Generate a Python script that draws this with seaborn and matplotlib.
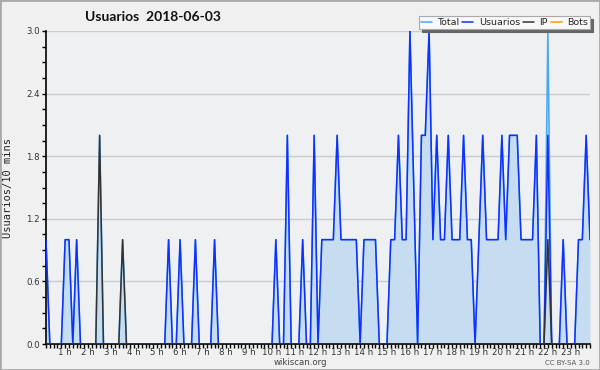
import pandas as pd
import matplotlib.pyplot as plt
import seaborn as sns
from matplotlib.patches import Rectangle
from matplotlib.ticker import MultipleLocator, FixedLocator

# 10-minute bins from 00:10 to 23:50
minutes = list(range(10, 1440, 10))

usuarios = [
    1, 0, 0, 0, 0, 1, 1, 0, 1, 0, 0, 0,
    0, 0, 0, 0, 0, 0, 0, 0, 0, 0, 0, 0,
    0, 0, 0, 0, 0, 0, 0, 0, 1, 0, 0, 1,
    0, 0, 0, 1, 0, 0, 0, 0, 1, 0, 0, 0,
    0, 0, 0, 0, 0, 0, 0, 0, 0, 0, 0, 0,
    1, 0, 0, 2, 0, 0, 0, 1, 0, 0, 2, 0,
    1, 1, 1, 1, 2, 1, 1, 1, 1, 1, 0, 1,
    1, 1, 1, 0, 0, 0, 1, 1, 2, 1, 1, 3,
    1.5, 0, 2, 2, 3, 1, 2, 1, 1, 2, 1, 1,
    1, 2, 1, 1, 0, 1, 2, 1, 1, 1, 1, 2,
    1, 2, 2, 2, 1, 1, 1, 1, 2, 0, 0, 2,
    0, 0, 0, 1, 0, 0, 0, 1, 1, 2, 1,
]

ip = [
    0, 0, 0, 0, 0, 0, 0, 0, 0, 0, 0, 0,
    0, 0, 2, 0, 0, 0, 0, 0, 1, 0, 0, 0,
    0, 0, 0, 0, 0, 0, 0, 0, 0, 0, 0, 0,
    0, 0, 0, 0, 0, 0, 0, 0, 0, 0, 0, 0,
    0, 0, 0, 0, 0, 0, 0, 0, 0, 0, 0, 0,
    0, 0, 0, 0, 0, 0, 0, 0, 0, 0, 0, 0,
    0, 0, 0, 0, 0, 0, 0, 0, 0, 0, 0, 0,
    0, 0, 0, 0, 0, 0, 0, 0, 0, 0, 0, 0,
    0, 0, 0, 0, 0, 0, 0, 0, 0, 0, 0, 0,
    0, 0, 0, 0, 0, 0, 0, 0, 0, 0, 0, 0,
    0, 0, 0, 0, 0, 0, 0, 0, 0, 0, 0, 1,
    0, 0, 0, 0, 0, 0, 0, 0, 0, 0, 0,
]

bots = [
    0, 0, 0, 0, 0, 0, 0, 0, 0, 0, 0, 0,
    0, 0, 0, 0, 0, 0, 0, 0, 0, 0, 0, 0,
    0, 0, 0, 0, 0, 0, 0, 0, 0, 0, 0, 0,
    0, 0, 0, 0, 0, 0, 0, 0, 0, 0, 0, 0,
    0, 0, 0, 0, 0, 0, 0, 0, 0, 0, 0, 0,
    0, 0, 0, 0, 0, 0, 0, 0, 0, 0, 0, 0,
    0, 0, 0, 0, 0, 0, 0, 0, 0, 0, 0, 0,
    0, 0, 0, 0, 0, 0, 0, 0, 0, 0, 0, 0,
    0, 0, 0, 0, 0, 0, 0, 0, 0, 0, 0, 0,
    0, 0, 0, 0, 0, 0, 0, 0, 0, 0, 0, 0,
    0, 0, 0, 0, 0, 0, 0, 0, 0, 0, 0, 0,
    0, 0, 0, 0, 0, 0, 0, 0, 0, 0, 0,
]

total = [
    1, 0, 0, 0, 0, 1, 1, 0, 1, 0, 0, 0,
    0, 0, 2, 0, 0, 0, 0, 0, 1, 0, 0, 0,
    0, 0, 0, 0, 0, 0, 0, 0, 1, 0, 0, 1,
    0, 0, 0, 1, 0, 0, 0, 0, 1, 0, 0, 0,
    0, 0, 0, 0, 0, 0, 0, 0, 0, 0, 0, 0,
    1, 0, 0, 2, 0, 0, 0, 1, 0, 0, 2, 0,
    1, 1, 1, 1, 2, 1, 1, 1, 1, 1, 0, 1,
    1, 1, 1, 0, 0, 0, 1, 1, 2, 1, 1, 3,
    1.5, 0, 2, 2, 3, 1, 2, 1, 1, 2, 1, 1,
    1, 2, 1, 1, 0, 1, 2, 1, 1, 1, 1, 2,
    1, 2, 2, 2, 1, 1, 1, 1, 2, 0, 0, 3,
    0, 0, 0, 1, 0, 0, 0, 1, 1, 2, 1,
]

hour_ticks = list(range(60, 1440, 60))
hour_labels = [f"{h} h" for h in range(1, 24)]
y_ticks = [0.0, 0.6, 1.2, 1.8, 2.4, 3.0]

df = pd.DataFrame({
    "min": minutes,
    "Total": total,
    "Usuarios": usuarios,
    "IP": ip,
    "Bots": bots,
})

sns.set_style("white")
plt.rcParams["font.family"] = ["DejaVu Sans"]

fig = plt.figure(figsize=(6, 3.7), dpi=100, facecolor="#f0f0f0")
ax = fig.add_axes([46 / 600, 1 - 344 / 370, 544 / 600, 313 / 370])
ax.set_facecolor("#eef0f2")

ax.fill_between(df["min"], df["Total"], color="#c6ddf1", lw=0, zorder=1)

colors = {"Total": "#4aa8f0", "Usuarios": "#1030ff", "IP": "#333333", "Bots": "#ff9a00"}
zorders = {"Total": 2, "Usuarios": 3, "IP": 4, "Bots": 1.5}
for name in ["Total", "Usuarios", "IP", "Bots"]:
    sns.lineplot(data=df, x="min", y=name, color=colors[name], lw=1.1,
                 label=name, ax=ax, zorder=zorders[name])

ax.set_xlim(10, 1430)
ax.set_ylim(0, 3.0)
ax.set_xlabel("")
ax.set_ylabel("")

ax.xaxis.set_major_locator(FixedLocator(hour_ticks))
ax.set_xticklabels(hour_labels)
ax.xaxis.set_minor_locator(MultipleLocator(10))
ax.set_yticks(y_ticks)
ax.set_yticklabels([f"{v:.1f}" for v in y_ticks])
ax.yaxis.set_minor_locator(MultipleLocator(0.15))

ax.tick_params(axis="both", which="major", labelsize=6.2, length=3, width=1,
               color="black", labelcolor="#333333", pad=0, direction="out")
ax.tick_params(axis="both", which="minor", length=3, width=1, color="black",
               direction="out")
ax.tick_params(axis="y", which="major", pad=1.5)
ax.tick_params(axis="x", which="both", bottom=True)
ax.tick_params(axis="y", which="both", left=True)

ax.grid(axis="y", color="#cccccc", lw=1)
ax.set_axisbelow(True)
for side in ["top", "right"]:
    ax.spines[side].set_visible(False)
for side in ["left", "bottom"]:
    ax.spines[side].set_color("black")
    ax.spines[side].set_linewidth(1.2)

leg = ax.legend(ncol=4, loc="upper right", bbox_to_anchor=(590 / 600, 1 - 16.5 / 370),
                bbox_transform=fig.transFigure, fontsize=6.8, frameon=True,
                fancybox=False, handlelength=1.15, handletextpad=0.6,
                columnspacing=0.3, borderpad=0.2, borderaxespad=0,
                shadow={"ox": 2, "oy": -2, "facecolor": "#666666",
                        "edgecolor": "#666666", "alpha": 1})
leg.get_frame().set_facecolor("#f8f8f8")
leg.get_frame().set_edgecolor("#aaaaaa")
leg.get_frame().set_linewidth(0.8)
leg.set_zorder(10)

fig.text(85 / 600, 1 - 17 / 370, "Usuarios  2018-06-03", fontsize=10,
         fontweight="bold", family=["Lato", "DejaVu Sans"], ha="left",
         va="center", color="#111111")
fig.text(8 / 600, 1 - 188 / 370, "Usuarios/10 mins", rotation=90, fontsize=7.5,
         family=["DejaVu Sans Mono"], ha="center", va="center", color="#222222")
fig.text(300 / 600, 1 - 362.5 / 370, "wikiscan.org", fontsize=6.2, ha="center",
         va="center", color="#444444")
fig.text(590 / 600, 1 - 363 / 370, "CC BY-SA 3.0", fontsize=5, ha="right",
         va="center", color="#555555")

fig.patches.append(Rectangle((0, 0), 1, 1, transform=fig.transFigure, fill=False,
                             edgecolor="#aaaaaa", lw=2))

fig.savefig("out.png", dpi=100, facecolor=fig.get_facecolor())
